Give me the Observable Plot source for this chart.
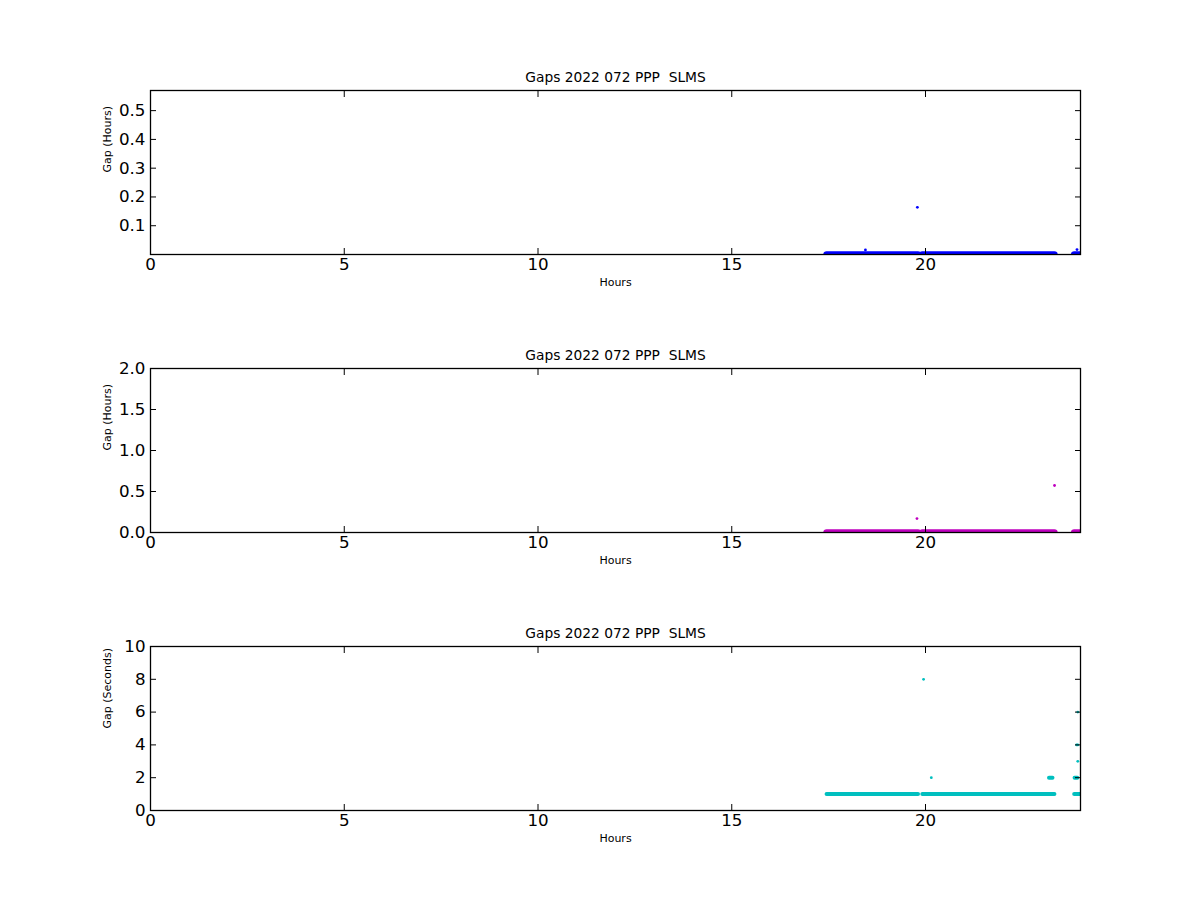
<!DOCTYPE html>
<html>
<head>
<meta charset="utf-8">
<script src="https://cdn.jsdelivr.net/npm/d3@7"></script>
<script src="https://cdn.jsdelivr.net/npm/@observablehq/plot@0.6"></script>
<style>
  html, body { margin: 0; padding: 0; background: #fff; }
  #chart { position: relative; width: 1200px; height: 900px; background: #fff; }
  #chart > svg { position: absolute; left: 0; }
</style>
</head>
<body>
<div id="chart"></div>
<script>
// ---- data ----
const titleText = "Gaps 2022 072 PPP  SLMS";
const xTicks = [0, 5, 10, 15, 20];

// continuous runs of ~1 s gaps (hours of day)
const runStart = [17.46, 19.93, 23.85];
const runEnd   = [19.82, 23.34, 24.0];
const runGapHours   = [0.00028, 0.00028, 0.00028];
const runGapSeconds = [1, 1, 1];

// extra short runs in seconds panel
const extraRunStart = [23.20, 23.86];
const extraRunEnd   = [23.29, 23.93];
const extraRunGapSeconds = [2, 2];

// isolated gaps, panel 1 (hours)
const p1X = [18.45, 19.79, 23.91];
const p1Y = [0.016, 0.164, 0.017];
// isolated gaps, panel 2 (hours)
const p2X = [19.78, 23.33];
const p2Y = [0.17, 0.573];
// isolated gaps, panel 3 (seconds)
const p3X = [19.95, 20.15, 23.93, 23.90, 23.93, 23.93];
const p3Y = [8, 2, 6, 4, 4, 3];

const panelYTicks1 = [0.1, 0.2, 0.3, 0.4, 0.5];
const panelYTicks2 = [0, 0.5, 1.0, 1.5, 2.0];
const panelYTicks3 = [0, 2, 4, 6, 8, 10];

// ---- build tables ----
const runsH = runStart.map((s, i) => ({start: s, end: runEnd[i], gap: runGapHours[i]}));
const runsS = runStart.map((s, i) => ({start: s, end: runEnd[i], gap: runGapSeconds[i]}))
  .concat(extraRunStart.map((s, i) => ({start: s, end: extraRunEnd[i], gap: extraRunGapSeconds[i]})));
const pts1 = p1X.map((x, i) => ({x, y: p1Y[i]}));
const pts2 = p2X.map((x, i) => ({x, y: p2Y[i]}));
const pts3 = p3X.map((x, i) => ({x, y: p3Y[i]}));

function panel({yDomain, yTicks, yFmt, yLabel, color, runs, pts, bandWidth, ruleWidth}) {
  return Plot.plot({
    width: 1200,
    height: 330,
    marginTop: 90,
    marginBottom: 76,
    marginLeft: 150,
    marginRight: 120,
    style: {fontFamily: "DejaVu Sans", background: "none", color: "black", overflow: "visible"},
    x: {domain: [0, 24]},
    y: {domain: yDomain},
    marks: [
      Plot.ruleY(runs, {x1: "start", x2: "end", y: "gap", stroke: color, strokeWidth: bandWidth, strokeLinecap: "round", clip: true}),
      Plot.dot(pts, {x: "x", y: "y", r: 1.4, fill: color, stroke: "none", clip: true}),
      // tick labels
      Plot.axisX({ticks: xTicks, tickSize: 0, tickPadding: 4, fontSize: 16.7, label: null, tickFormat: d => String(d)}),
      Plot.axisY({ticks: yTicks, tickSize: 0, tickPadding: 5, fontSize: 16.7, label: null, tickFormat: yFmt}),
      // inward ticks on all sides
      Plot.axisX({anchor: "bottom", ticks: xTicks, tickSize: -6, label: null, tickFormat: () => ""}),
      Plot.axisX({anchor: "top", ticks: xTicks, tickSize: -6, label: null, tickFormat: () => ""}),
      Plot.axisY({anchor: "left", ticks: yTicks, tickSize: -6, label: null, tickFormat: () => ""}),
      Plot.axisY({anchor: "right", ticks: yTicks, tickSize: -6, label: null, tickFormat: () => ""}),
      Plot.frame({stroke: "black", strokeWidth: 1.3}),
      Plot.text([titleText], {frameAnchor: "top", lineAnchor: "bottom", dy: -9, fontSize: 13.8, fill: "black"}),
      Plot.text(["Hours"], {frameAnchor: "bottom", lineAnchor: "middle", dy: 28, fontSize: 11, fill: "black"}),
      Plot.text([yLabel], {frameAnchor: "left", lineAnchor: "middle", rotate: -90, dx: -43, fontSize: 11, fill: "black"})
    ]
  });
}

const chart = document.getElementById("chart");
const configs = [
  {yDomain: [0, 0.57], yTicks: panelYTicks1, yFmt: d3.format(".1f"), yLabel: "Gap (Hours)", color: "#0000ff", runs: runsH, pts: pts1, bandWidth: 6.5},
  {yDomain: [0, 2], yTicks: panelYTicks2, yFmt: d3.format(".1f"), yLabel: "Gap (Hours)", color: "#bf00bf", runs: runsH, pts: pts2, bandWidth: 6.5},
  {yDomain: [0, 10], yTicks: panelYTicks3, yFmt: d3.format("d"), yLabel: "Gap (Seconds)", color: "#00bfbf", runs: runsS, pts: pts3, bandWidth: 4}
];
configs.forEach((c, i) => {
  const svg = panel(c);
  svg.style.top = (278 * i) + "px";
  chart.appendChild(svg);
});
</script>
</body>
</html>
